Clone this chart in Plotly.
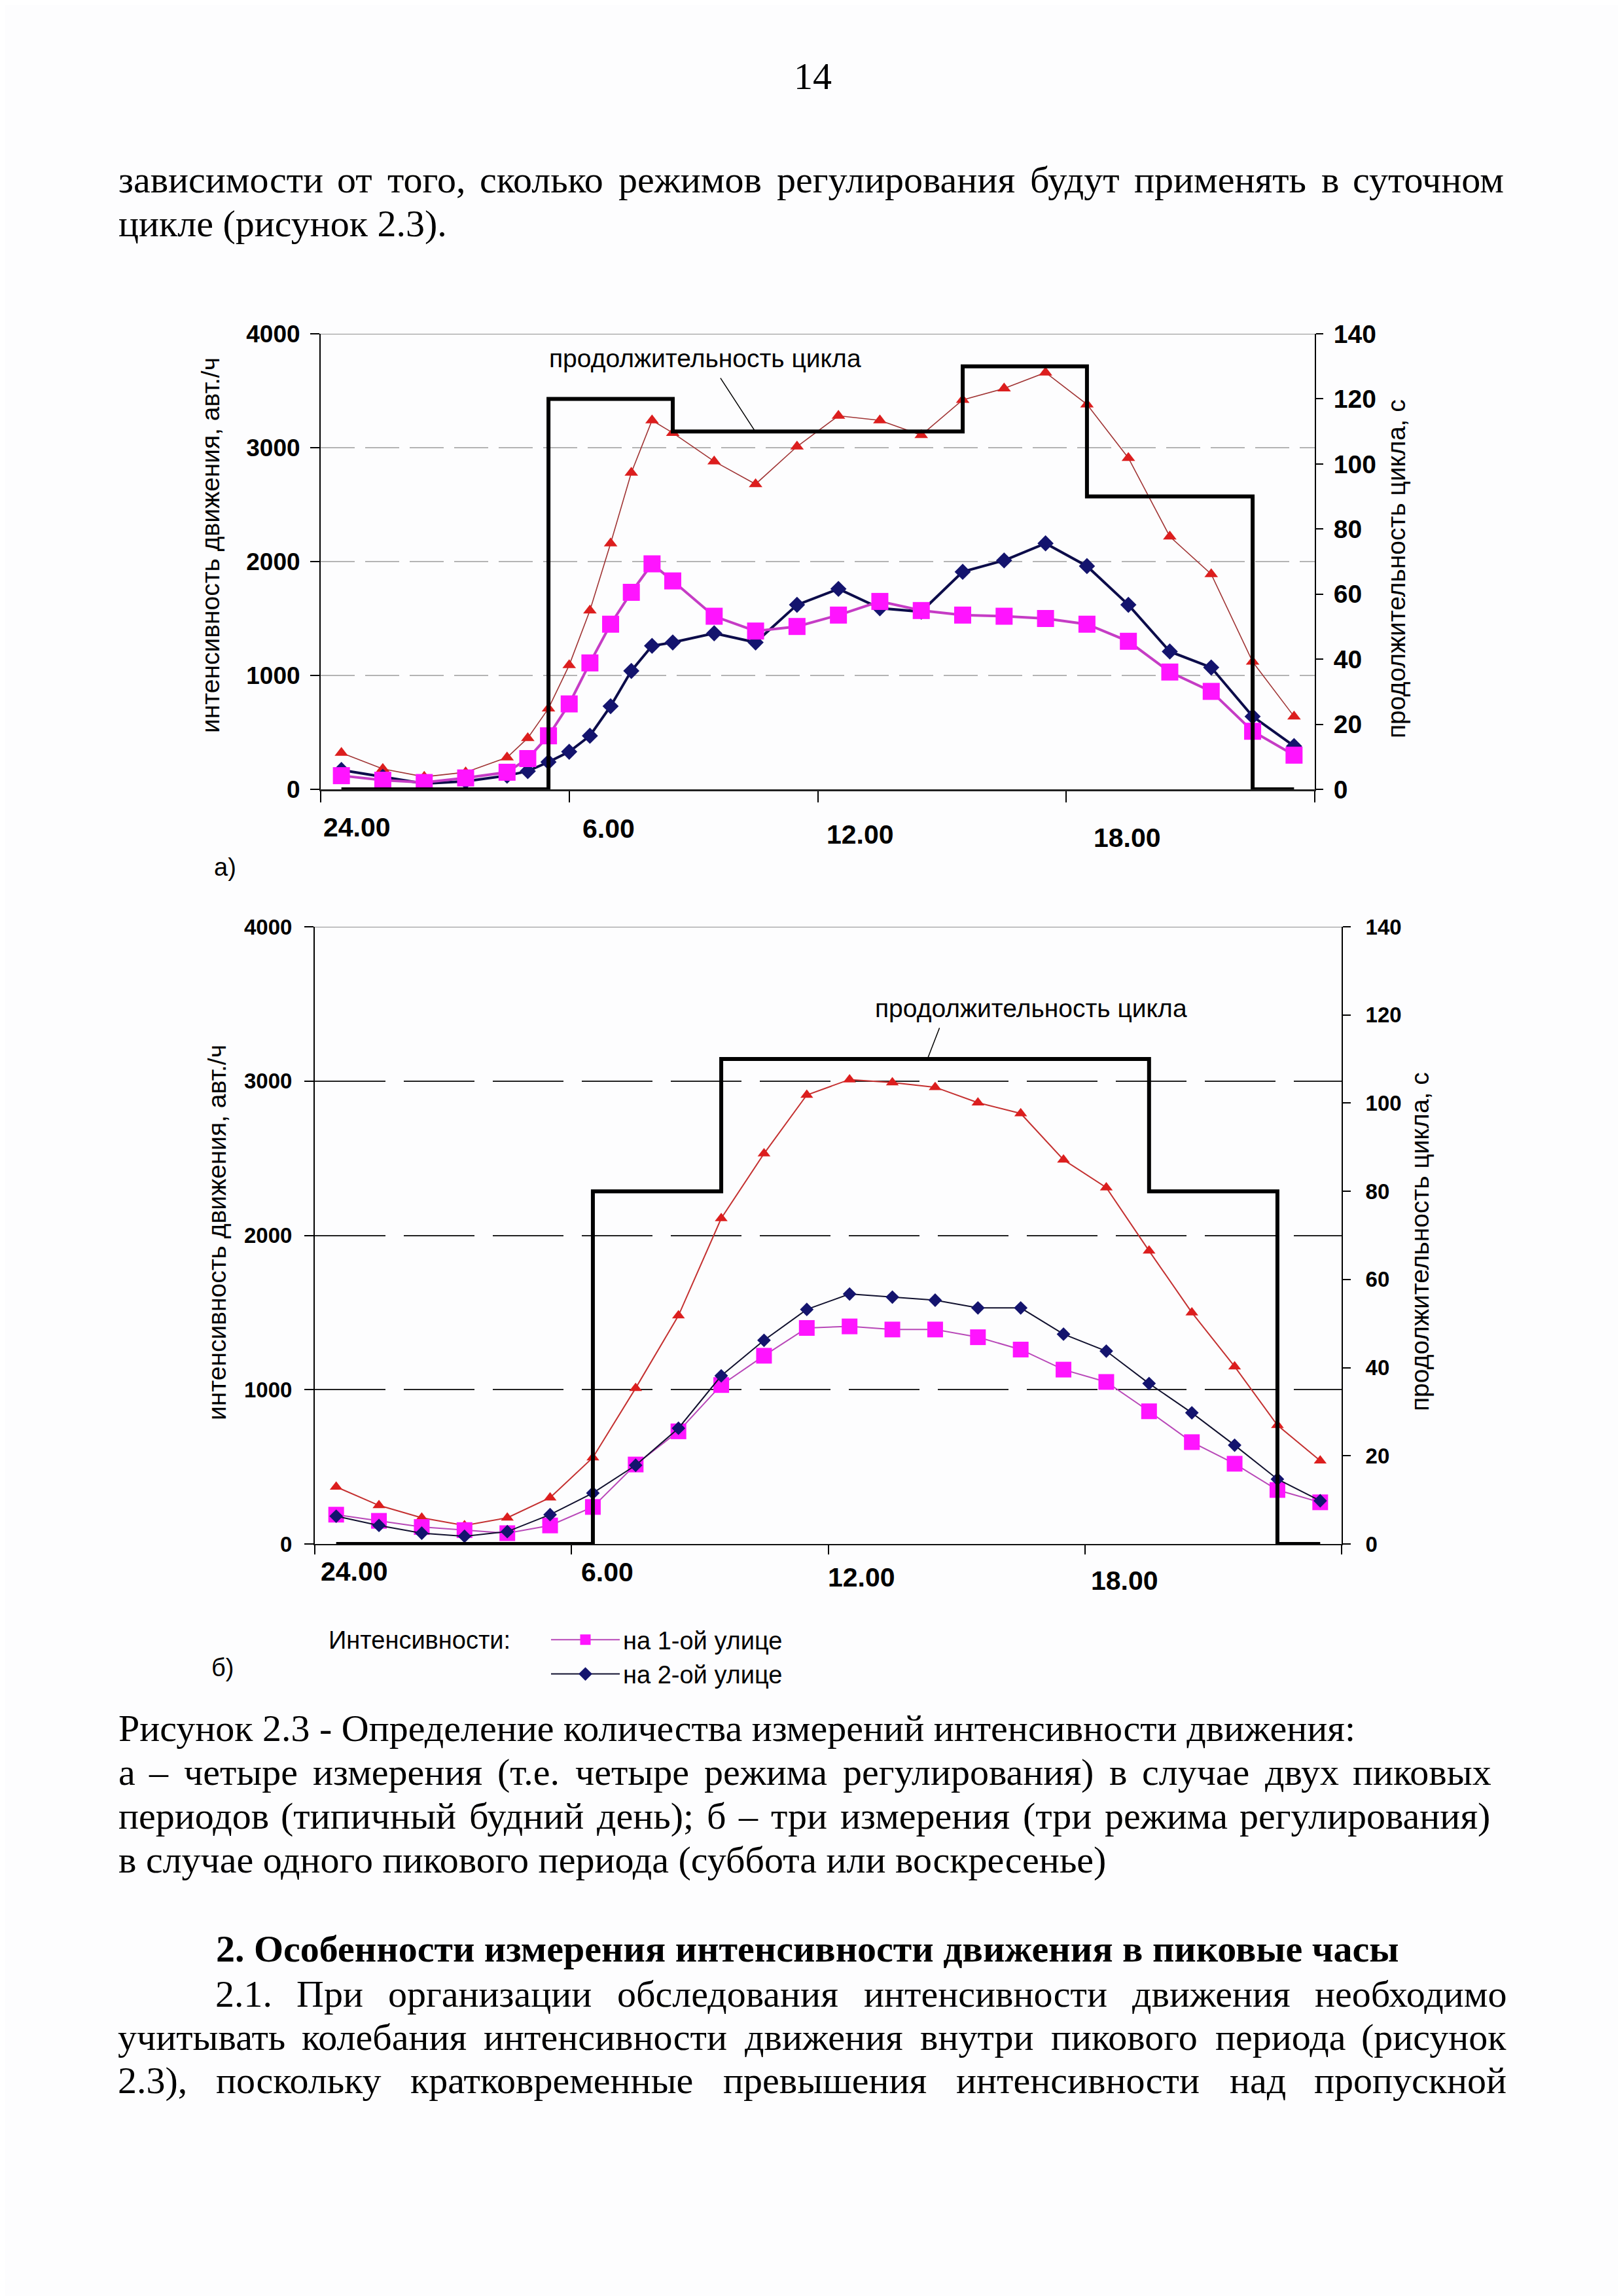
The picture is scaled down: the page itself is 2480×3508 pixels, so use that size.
import glob
import plotly.graph_objects as go

PAGE_W, PAGE_H = 2480, 3508
OFF = 8  # the page body adds an 8px margin around the figure

# ---------------- data: chart а (weekday) ----------------
hours_a = [0.5, 1.5, 2.5, 3.5, 4.5, 5.0, 5.5, 6.0, 6.5, 7.0, 7.5, 8.0, 8.5, 9.5,
           10.5, 11.5, 12.5, 13.5, 14.5, 15.5, 16.5, 17.5, 18.5, 19.5, 20.5, 21.5, 22.5, 23.5]
total_a = [320, 180, 110, 150, 280, 450, 710, 1090, 1570, 2160, 2780, 3240, 3130, 2880,
           2680, 3010, 3280, 3240, 3110, 3420, 3520, 3660, 3380, 2910, 2220, 1890, 1120, 640]
street1_a = [120, 80, 60, 100, 150, 270, 470, 750, 1110, 1450, 1730, 1980, 1830, 1520,
             1390, 1430, 1530, 1650, 1570, 1530, 1520, 1500, 1450, 1300, 1030, 860, 510, 300]
street2_a = [170, 110, 50, 70, 120, 160, 240, 330, 470, 730, 1040, 1260, 1290, 1370,
             1290, 1620, 1760, 1590, 1560, 1910, 2010, 2160, 1960, 1620, 1210, 1070, 640, 380]
cycle_hours_a = [0.5, 5.5, 8.5, 15.5, 18.5, 22.5, 23.5]
cycle_a = [0, 120, 110, 130, 90, 0, 0]

# ---------------- data: chart б (weekend) ----------------
hours_b = [0.5, 1.5, 2.5, 3.5, 4.5, 5.5, 6.5, 7.5, 8.5, 9.5, 10.5, 11.5,
           12.5, 13.5, 14.5, 15.5, 16.5, 17.5, 18.5, 19.5, 20.5, 21.5, 22.5, 23.5]
total_b = [370, 250, 170, 120, 170, 300, 560, 1010, 1480, 2110, 2530, 2910,
           3010, 2990, 2960, 2860, 2790, 2490, 2310, 1900, 1500, 1150, 770, 540]
street1_b = [190, 150, 110, 90, 70, 120, 240, 515, 730, 1030, 1220, 1400,
             1410, 1390, 1390, 1340, 1260, 1130, 1050, 860, 660, 520, 350, 270]
street2_b = [180, 120, 70, 50, 80, 190, 330, 510, 750, 1090, 1320, 1520,
             1620, 1600, 1580, 1530, 1530, 1360, 1250, 1040, 850, 640, 420, 280]
cycle_hours_b = [0.5, 6.5, 9.5, 19.5, 22.5, 23.5]
cycle_b = [0, 80, 110, 80, 0, 0]

time_labels = ["24.00", "6.00", "12.00", "18.00"]
hour_ticks = [0, 6, 12, 18, 24]
flow_ticks = [0, 1000, 2000, 3000, 4000]
cycle_ticks = [0, 20, 40, 60, 80, 100, 120, 140]

flow_title = "интенсивность движения, авт./ч"
cycle_title = "продолжительность цикла, с"
cycle_note = "продолжительность цикла"
legend_title = "Интенсивности:"
series_names = ["на 1-ой улице", "на 2-ой улице"]

page_number = "14"
body_lines_top = [
    "зависимости от того, сколько режимов регулирования будут применять в суточном",
    "цикле (рисунок 2.3).",
]
caption_lines = [
    "Рисунок 2.3 - Определение количества измерений интенсивности движения:",
    "а – четыре измерения (т.е. четыре режима регулирования) в случае двух пиковых",
    "периодов (типичный будний день); б – три измерения (три режима регулирования)",
    "в случае одного пикового периода (суббота или воскресенье)",
]
heading = "2. Особенности измерения интенсивности движения в пиковые часы"
body_lines_bottom = [
    "2.1. При организации обследования интенсивности движения необходимо",
    "учитывать колебания интенсивности движения внутри пикового периода (рисунок",
    "2.3), поскольку кратковременные превышения интенсивности над пропускной",
]

# ---------------- helpers ----------------
SANS = "Liberation Sans, Arial, sans-serif"
SERIF = "Liberation Serif, Times New Roman, serif"
BG = "#fdfdfe"


def xp(p):
    return (p - OFF) / PAGE_W


def yp(p):
    return 1 - (p - OFF) / PAGE_H


_LOWER = "абвгдеёжзийклмнопрстуфхцчшщъыьэюя"
_LOWER_W = [444, 509, 472, 410, 509, 444, 444, 691, 395, 535, 535, 486, 499, 633, 535, 500, 535,
            500, 444, 437, 500, 648, 500, 535, 503, 770, 770, 517, 672, 456, 429, 747, 486]
_TABLE = dict(zip(_LOWER, _LOWER_W))
_TABLE.update({" ": 250, ".": 250, ",": 250, "(": 333, ")": 333, "-": 333, "–": 500,
               ":": 278, ";": 278})
for d in "0123456789":
    _TABLE[d] = 500

_font_cache = {}


def _pil_font(size, bold):
    key = (size, bold)
    if key in _font_cache:
        return _font_cache[key]
    font = None
    try:
        from PIL import ImageFont
        name = "LiberationSerif-Bold.ttf" if bold else "LiberationSerif-Regular.ttf"
        paths = glob.glob("/usr/share/fonts/**/" + name, recursive=True)
        paths += glob.glob("/usr/local/share/fonts/**/" + name, recursive=True)
        if paths:
            font = ImageFont.truetype(paths[0], size)
    except Exception:
        font = None
    _font_cache[key] = font
    return font


def text_width(s, size, bold=False):
    f = _pil_font(size, bold)
    if f is not None:
        try:
            return f.getlength(s)
        except Exception:
            pass
    tot = 0
    for ch in s:
        if ch in _TABLE:
            tot += _TABLE[ch]
        elif ch.isupper():
            tot += 700
        else:
            tot += 500
    return tot / 1000 * size * (1.05 if bold else 1.0)


annotations = []


def add_text(text, x_px, y_px, size=58, bold=False, anchor="left", family=SERIF):
    annotations.append(dict(
        text=text, x=xp(x_px), y=yp(y_px), xref="paper", yref="paper",
        xanchor=anchor, yanchor="middle", showarrow=False,
        font=dict(family=family, size=size, color="black", weight="bold" if bold else "normal")))


def add_justified(text, x_left, x_right, y_px, size=58, bold=False):
    words = text.split(" ")
    widths = [text_width(w, size, bold) for w in words]
    gap = (x_right - x_left - sum(widths)) / (len(words) - 1)
    cur = x_left
    for i, (w, wd) in enumerate(zip(words, widths)):
        if i == 0:
            add_text(w, cur, y_px, size, bold, "left")
        elif i == len(words) - 1:
            add_text(w, x_right, y_px, size, bold, "right")
        else:
            add_text(w, cur + wd / 2, y_px, size, bold, "center")
        cur += wd + gap


# ---------------- traces ----------------
fig = go.Figure()

# chart а
fig.add_trace(go.Scatter(x=hours_a, y=total_a, mode="lines+markers", xaxis="x", yaxis="y",
                         line=dict(color="#a03434", width=1.6),
                         marker=dict(symbol="triangle-up", size=18, color="#dc1e1e"),
                         showlegend=False))
fig.add_trace(go.Scatter(x=hours_a, y=street2_a, mode="lines+markers", xaxis="x", yaxis="y",
                         line=dict(color="#0c0c4a", width=4),
                         marker=dict(symbol="diamond", size=19, color="#14146e"),
                         showlegend=False))
fig.add_trace(go.Scatter(x=hours_a, y=street1_a, mode="lines+markers", xaxis="x", yaxis="y",
                         line=dict(color="#c53cc5", width=4),
                         marker=dict(symbol="square", size=26, color="#ff14ff"),
                         showlegend=False))
fig.add_trace(go.Scatter(x=cycle_hours_a, y=cycle_a, mode="lines", xaxis="x", yaxis="y2",
                         line=dict(color="black", width=6, shape="hv"), showlegend=False))

# chart б
fig.add_trace(go.Scatter(x=hours_b, y=total_b, mode="lines+markers", xaxis="x2", yaxis="y3",
                         line=dict(color="#c43030", width=2),
                         marker=dict(symbol="triangle-up", size=17, color="#dc1e1e"),
                         showlegend=False))
fig.add_trace(go.Scatter(x=hours_b, y=street1_b, mode="lines+markers", xaxis="x2", yaxis="y3",
                         name=series_names[0], legendgroup="g1",
                         line=dict(color="#b848b8", width=2),
                         marker=dict(symbol="square", size=24, color="#ff14ff"),
                         showlegend=True))
fig.add_trace(go.Scatter(x=hours_b, y=street2_b, mode="lines+markers", xaxis="x2", yaxis="y3",
                         name=series_names[1], legendgroup="g2",
                         line=dict(color="#10102e", width=2),
                         marker=dict(symbol="diamond", size=16, color="#14146e"),
                         showlegend=True))
fig.add_trace(go.Scatter(x=cycle_hours_b, y=cycle_b, mode="lines", xaxis="x2", yaxis="y4",
                         line=dict(color="black", width=6, shape="hv"), showlegend=False))


def xaxis_def(domain, anchor, ticklen, linecolor, linewidth):
    return dict(domain=domain, anchor=anchor, range=[0, 24], tickvals=hour_ticks,
                ticks="outside", ticklen=ticklen, tickwidth=2, tickcolor="black",
                showticklabels=False, showline=True, linecolor=linecolor, linewidth=linewidth,
                showgrid=False, zeroline=False, fixedrange=True, automargin=False)


def flow_axis(domain, anchor, size, standoff, gridcolor, griddash):
    return dict(domain=domain, anchor=anchor, range=[0, 4000], tickvals=flow_ticks,
                ticks="outside", ticklen=14, tickwidth=2, tickcolor="black",
                tickfont=dict(family=SANS, size=size, color="black", weight="bold"),
                ticklabelstandoff=standoff,
                showline=True, linecolor="black", linewidth=2,
                showgrid=True, gridcolor=gridcolor, gridwidth=2, griddash=griddash,
                zeroline=False, fixedrange=True, automargin=False)


def cycle_axis(overlay, anchor, size, standoff, ticklen):
    return dict(overlaying=overlay, anchor=anchor, side="right", range=[0, 140],
                tickvals=cycle_ticks, ticks="outside", ticklen=ticklen, tickwidth=2,
                tickcolor="black",
                tickfont=dict(family=SANS, size=size, color="black", weight="bold"),
                ticklabelstandoff=standoff,
                showline=True, linecolor="black", linewidth=2, showgrid=False,
                zeroline=False, fixedrange=True, automargin=False)


# ---------------- text annotations: charts ----------------
def chart_text(text, x, y, xref, size=36, angle=0, bold=False):
    annotations.append(dict(text=text, x=x, y=y, xref=xref, yref="paper",
                            xanchor="center", yanchor="middle", showarrow=False,
                            textangle=angle,
                            font=dict(family=SANS, size=size, color="black",
                                      weight="bold" if bold else "normal")))


# x tick labels (offset as in the original)
for lab, hx, ypx in zip(time_labels, [0.87, 6.95, 13.03, 19.47], [1264, 1266, 1275, 1280]):
    chart_text(lab, hx, yp(ypx), "x", size=41, bold=True)
for lab, hx, ypx in zip(time_labels, [0.92, 6.84, 12.78, 18.93], [2401, 2402, 2410, 2415]):
    chart_text(lab, hx, yp(ypx), "x2", size=41, bold=True)

# axis titles
chart_text(flow_title, xp(321), yp(833), "paper", size=39, angle=-90)
chart_text(cycle_title, xp(2134), yp(869), "paper", size=39, angle=-90)
chart_text(flow_title, xp(331), yp(1883), "paper", size=39, angle=-90)
chart_text(cycle_title, xp(2169), yp(1897), "paper", size=39, angle=-90)

# cycle notes with leader lines
chart_text(cycle_note, xp(1077), yp(547), "paper", size=39)
annotations.append(dict(text="", x=10.49, y=110, xref="x", yref="y2", showarrow=True,
                        arrowhead=0, arrowwidth=1.5, arrowcolor="black",
                        ax=-54, ay=-83, axref="pixel", ayref="pixel"))
chart_text(cycle_note, xp(1576), yp(1540), "paper", size=39)
annotations.append(dict(text="", x=14.32, y=110, xref="x2", yref="y4", showarrow=True,
                        arrowhead=0, arrowwidth=1.5, arrowcolor="black",
                        ax=19, ay=-49, axref="pixel", ayref="pixel"))

# panel letters and legend title
chart_text("а)", xp(344), yp(1325), "paper", size=38)
chart_text("б)", xp(340), yp(2548), "paper", size=38)
annotations.append(dict(text=legend_title, x=xp(500), y=yp(2506), xref="paper", yref="paper",
                        xanchor="left", yanchor="middle", showarrow=False,
                        font=dict(family=SANS, size=38, color="black")))

# ---------------- page text ----------------
add_text(page_number, 1242, 117, anchor="center")
add_justified(body_lines_top[0], 179, 2300, 274)
add_text(body_lines_top[1], 179, 341)
add_text(caption_lines[0], 179, 2640)
add_justified(caption_lines[1], 179, 2281, 2707)
add_justified(caption_lines[2], 179, 2279, 2774)
add_text(caption_lines[3], 179, 2841)
add_text(heading, 1234, 2977, bold=True, anchor="center")
add_justified(body_lines_bottom[0], 327, 2304, 3046)
add_justified(body_lines_bottom[1], 178, 2304, 3112)
add_justified(body_lines_bottom[2], 178, 2304, 3178)

shapes = [
    dict(type="line", xref="x domain", yref="y", x0=0, x1=1, y0=4000, y1=4000,
         line=dict(color="#8e8e8e", width=2)),
    dict(type="line", xref="x2 domain", yref="y3", x0=0, x1=1, y0=4000, y1=4000,
         line=dict(color="#8e8e8e", width=2)),
]

fig.update_layout(
    width=PAGE_W, height=PAGE_H, autosize=False,
    margin=dict(l=0, r=0, t=0, b=0, pad=0, autoexpand=False),
    paper_bgcolor=BG, plot_bgcolor=BG,
    xaxis=xaxis_def([xp(490), xp(2009)], "y", 17, "#222222", 3),
    yaxis=flow_axis([yp(1206), yp(510)], "x", 37, 8, "#b4b4b4", "52px,16px"),
    yaxis2=cycle_axis("y", "x", 39, 8, 11),
    xaxis2=xaxis_def([xp(481), xp(2050)], "y3", 14, "#111111", 2),
    yaxis3=flow_axis([yp(2359), yp(1416)], "x2", 33, 12, "#222222", "108px,28px"),
    yaxis4=cycle_axis("y3", "x2", 33, 16, 12),
    showlegend=True,
    legend=dict(x=xp(837), y=yp(2474), xanchor="left", yanchor="top",
                bgcolor="rgba(0,0,0,0)", font=dict(family=SANS, size=38, color="black"),
                orientation="v", traceorder="normal", tracegroupgap=4, itemwidth=105),
    annotations=annotations,
    shapes=shapes,
)

fig.write_html("out.html")
